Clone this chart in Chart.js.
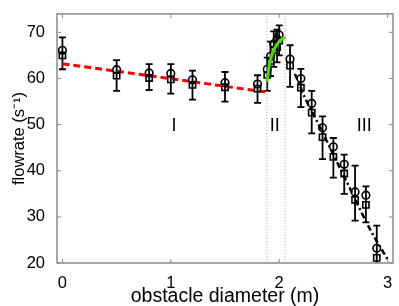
<!DOCTYPE html>
<html>
<head>
<meta charset="utf-8">
<script src="https://cdn.jsdelivr.net/npm/chart.js@4"></script>
<style>
  html, body { margin: 0; padding: 0; background: #fff; }
</style>
</head>
<body>
<canvas id="myChart" width="399" height="306"></canvas>
<script>
// Messpunkte (Kreise und Quadrate teilen sich die x-Werte)
const diameters = [0, 0.5, 0.8, 1.0, 1.2, 1.5, 1.8, 1.89, 1.92, 1.95, 1.98, 2.0, 2.1, 2.2, 2.3, 2.4, 2.5, 2.6, 2.7, 2.8, 2.9];
const circleFlow = [66.1, 61.9, 61.2, 61.1, 59.7, 59.1, 58.8, 62.0, 64.8, 67.5, 68.5, 69.4, 64.2, 60.0, 54.6, 49.3, 45.2, 41.4, 35.4, 34.7, 23.2];
const squareFlow = [65.0, 60.6, 60.1, 59.8, 58.6, 58.1, 57.8, 60.8, 63.8, 66.2, 66.8, 68.2, 62.8, 58.0, 52.6, 47.3, 43.0, 39.4, 33.7, 32.6, 21.1];
const errHigh = [68.9, 64.0, 63.1, 63.1, 61.7, 61.4, 60.7, 64.5, 68.0, 70.2, 70.6, 71.5, 67.2, 62.1, 57.3, 51.8, 47.1, 43.5, 41.1, 36.6, 28.1];
const errLow = [62.0, 57.3, 57.5, 56.7, 55.4, 55.0, 54.7, 57.3, 60.5, 62.5, 63.5, 65.0, 58.2, 53.8, 48.1, 42.5, 38.5, 35.0, 29.2, 28.8, 18.0];

// Fitlinien
const fitIX = [0, 1.87];
const fitIY = [63.2, 57.1];
const fitIIX = [1.886, 1.916, 1.962, 2.0, 2.054];
const fitIIY = [59.3, 63.8, 66.7, 68.0, 69.0];
const fitIIIX = [2.145, 2.236, 2.34, 2.45, 2.65, 2.845, 3.0];
const fitIIIY = [61.0, 55.9, 51.1, 45.9, 36.3, 27.0, 20.8];

// Bereichsgrenzen und Beschriftungen
const boundaries = [1.886, 2.054];
const regionLabels = ['I', 'II', 'III'];
const regionX = [1.03, 1.96, 2.785];
const regionY = [49.8, 49.8, 49.8];

const xTicks = [0, 1, 2, 3];
const yTicks = [20, 30, 40, 50, 60, 70];

const toPoints = (xs, ys) => xs.map((x, i) => ({ x: x, y: ys[i] }));

// Fehlerbalken (unter den Linien und Markern)
const errorBarPlugin = {
    id: 'errorBars',
    beforeDatasetsDraw(chart) {
        const { ctx, chartArea, scales } = chart;
        ctx.save();
        ctx.beginPath();
        ctx.rect(chartArea.left, chartArea.top, chartArea.right - chartArea.left, chartArea.bottom - chartArea.top);
        ctx.clip();
        ctx.strokeStyle = '#000';
        ctx.lineWidth = 1.8;
        diameters.forEach((d, i) => {
            const px = scales.x.getPixelForValue(d);
            const top = scales.y.getPixelForValue(errHigh[i]);
            const bot = scales.y.getPixelForValue(errLow[i]);
            ctx.beginPath();
            ctx.moveTo(px, top);
            ctx.lineTo(px, bot);
            ctx.moveTo(px - 3.5, top);
            ctx.lineTo(px + 3.5, top);
            ctx.moveTo(px - 3.5, bot);
            ctx.lineTo(px + 3.5, bot);
            ctx.stroke();
        });
        ctx.restore();
    }
};

// Rahmen mit innenliegenden Ticks und Bereichsnummern
const framePlugin = {
    id: 'frame',
    afterDraw(chart) {
        const { ctx, chartArea, scales } = chart;
        const { left, right, top, bottom } = chartArea;
        ctx.save();
        ctx.strokeStyle = '#8a8a8a';
        ctx.lineWidth = 1.5;
        ctx.strokeRect(left, top, right - left, bottom - top);
        ctx.lineWidth = 1;
        ctx.beginPath();
        xTicks.forEach(v => {
            const px = scales.x.getPixelForValue(v);
            ctx.moveTo(px, bottom); ctx.lineTo(px, bottom - 4);
            ctx.moveTo(px, top); ctx.lineTo(px, top + 4);
        });
        yTicks.forEach(v => {
            const py = scales.y.getPixelForValue(v);
            ctx.moveTo(left, py); ctx.lineTo(left + 4, py);
            ctx.moveTo(right, py); ctx.lineTo(right - 4, py);
        });
        ctx.stroke();

        ctx.fillStyle = '#000';
        ctx.font = '18px "Liberation Sans", Arial, sans-serif';
        ctx.textAlign = 'center';
        ctx.textBaseline = 'middle';
        regionLabels.forEach((t, i) => {
            ctx.fillText(t, scales.x.getPixelForValue(regionX[i]), scales.y.getPixelForValue(regionY[i]));
        });
        ctx.restore();
    }
};

const tickFont = { family: '"Liberation Sans", Arial, sans-serif', size: 16.5 };
const xTitleFont = { family: '"Liberation Sans", Arial, sans-serif', size: 19.5 };
const yTitleFont = { family: '"Liberation Sans", Arial, sans-serif', size: 16.5 };

const ctx = document.getElementById('myChart').getContext('2d');
const chartInstance = new Chart(ctx, {
    type: 'scatter',
    data: {
        datasets: [
            {
                type: 'line', order: 0,
                data: toPoints(fitIIX, fitIIY),
                borderColor: '#44dd00', borderWidth: 3, pointRadius: 0,
                cubicInterpolationMode: 'monotone'
            },
            {
                order: 1,
                data: toPoints(diameters, circleFlow),
                pointStyle: 'circle', pointRadius: 3.8,
                borderColor: '#000', backgroundColor: 'rgba(0,0,0,0)', borderWidth: 1.6
            },
            {
                order: 1,
                data: toPoints(diameters, squareFlow),
                pointStyle: 'rect', pointRadius: 4.4,
                borderColor: '#000', backgroundColor: 'rgba(0,0,0,0)', borderWidth: 1.6
            },
            {
                type: 'line', order: 2,
                data: toPoints(fitIX, fitIY),
                borderColor: '#ff0000', borderWidth: 3, borderDash: [7, 4], pointRadius: 0
            },
            {
                type: 'line', order: 2,
                data: toPoints(fitIIIX, fitIIIY),
                borderColor: '#000000', borderWidth: 2.5, borderDash: [6, 3, 2, 3], pointRadius: 0,
                cubicInterpolationMode: 'monotone'
            },
            {
                type: 'line', order: 3,
                data: toPoints([boundaries[0], boundaries[0]], [20, 74]),
                borderColor: '#aaaaaa', borderWidth: 1, borderDash: [1, 2], pointRadius: 0
            },
            {
                type: 'line', order: 3,
                data: toPoints([boundaries[1], boundaries[1]], [20, 74]),
                borderColor: '#aaaaaa', borderWidth: 1, borderDash: [1, 2], pointRadius: 0
            }
        ]
    },
    options: {
        responsive: false,
        animation: false,
        layout: { padding: { top: 2, right: 3, left: 0, bottom: 0 } },
        plugins: { legend: { display: false }, tooltip: { enabled: false } },
        scales: {
            x: {
                type: 'linear', min: -0.05, max: 3.05,
                afterBuildTicks: s => { s.ticks = xTicks.map(v => ({ value: v })); },
                afterFit: s => { s.height = 43; },
                grid: { display: false }, border: { display: false },
                ticks: { font: tickFont, color: '#000', padding: 3, maxRotation: 0 },
                title: { display: true, text: 'obstacle diameter (m)', font: xTitleFont, color: '#000', padding: { top: 0, bottom: -2 } }
            },
            y: {
                type: 'linear', min: 20, max: 74,
                afterBuildTicks: s => { s.ticks = yTicks.map(v => ({ value: v })); },
                afterFit: s => { s.width = 57; },
                grid: { display: false }, border: { display: false },
                ticks: { font: tickFont, color: '#000', padding: 4 },
                title: { display: true, text: 'flowrate (s\u207B\u00B9)', font: yTitleFont, color: '#000', padding: { top: 10, bottom: 0 } }
            }
        }
    },
    plugins: [errorBarPlugin, framePlugin]
});
</script>
</body>
</html>
